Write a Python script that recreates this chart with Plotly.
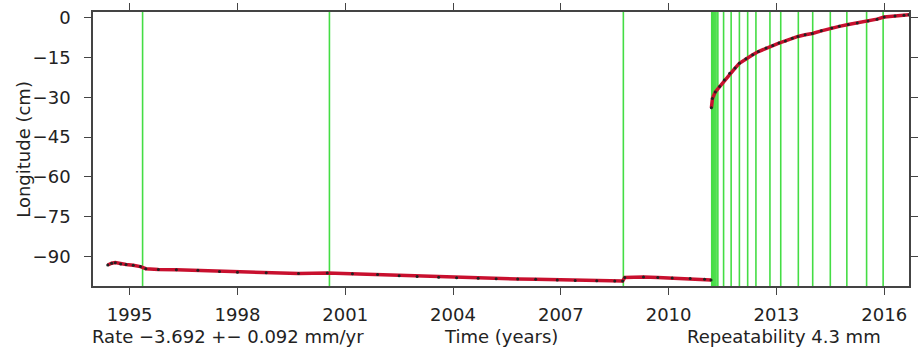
import plotly.graph_objects as go

# ---- data ----
pre_t = [1994.39, 1994.5, 1994.6, 1994.75, 1994.9, 1995.1, 1995.3, 1995.45, 1995.8, 1996.3,
         1996.9, 1997.5, 1998.0, 1998.8, 1999.7, 2000.5, 2001.2, 2001.9, 2002.5, 2003.0,
         2003.6, 2004.1, 2004.7, 2005.2, 2005.8, 2006.3, 2006.9, 2007.4, 2008.0, 2008.5,
         2008.72, 2008.78, 2009.3, 2009.7, 2010.1, 2010.6, 2011.0, 2011.18]
pre_v = [-93.2, -92.5, -92.3, -92.8, -93.0, -93.3, -93.8, -94.6, -94.9, -95.0,
         -95.2, -95.6, -95.9, -96.1, -96.4, -96.2, -96.5, -96.8, -97.2, -97.5,
         -97.8, -98.0, -98.2, -98.4, -98.5, -98.6, -98.8, -99.0, -99.1, -99.2,
         -99.2, -97.9, -97.7, -97.9, -98.1, -98.3, -98.6, -98.8]

post_t = [2011.19, 2011.22, 2011.3, 2011.42, 2011.55, 2011.7, 2011.85, 2011.97, 2012.15, 2012.34,
          2012.5, 2012.71, 2012.9, 2013.07, 2013.25, 2013.44, 2013.6, 2013.8, 2014.0, 2014.25,
          2014.54, 2014.75, 2015.0, 2015.25, 2015.55, 2015.8, 2016.0, 2016.3, 2016.55, 2016.69]
post_v = [-34.0, -30.5, -28.0, -26.0, -23.5, -21.0, -19.0, -17.2, -15.5, -14.0,
          -12.8, -11.5, -10.5, -9.6, -8.8, -7.8, -7.1, -6.5, -6.0, -5.0,
          -3.9, -3.3, -2.6, -2.0, -1.3, -0.6, 0.2, 0.6, 0.9, 1.1]

break_years = [1995.36, 2000.56, 2008.74, 2011.20, 2011.23, 2011.26, 2011.29, 2011.32, 2011.37,
               2011.53, 2011.74, 2011.97, 2012.20, 2012.43, 2012.82, 2013.12, 2013.61,
               2014.01, 2014.50, 2014.96, 2015.51, 2015.97]

x_ticks = [1995, 1998, 2001, 2004, 2007, 2010, 2013, 2016]
y_ticks = [0, -15, -30, -45, -60, -75, -90]

rate_text = "Rate \u22123.692 +\u2212 0.092 mm/yr"
xlabel_text = "Time (years)"
rep_text = "Repeatability 4.3 mm"
ylabel_text = "Longitude (cm)"

FONT = "DejaVu Sans"
FS = 18
TXT = "#222222"
AX = "#444444"
RED = "#c8102e"
GREEN = "#44dd44"

fig = go.Figure()

for t, v in [(pre_t, pre_v), (post_t, post_v)]:
    fig.add_trace(go.Scatter(x=t, y=v, mode="lines", line=dict(color=RED, width=3.5),
                             showlegend=False, hoverinfo="skip"))
    fig.add_trace(go.Scatter(x=t, y=v, mode="markers",
                             marker=dict(color="#222222", size=3), showlegend=False))

for yr in break_years:
    fig.add_shape(type="line", xref="x", yref="paper", x0=yr, x1=yr, y0=0, y1=1,
                  line=dict(color=GREEN, width=1.6), layer="below")

fig.update_layout(
    width=921, height=351,
    margin=dict(l=93, r=3, t=10, b=65),
    paper_bgcolor="white", plot_bgcolor="white",
    font=dict(family=FONT, size=FS, color=TXT),
    showlegend=False,
)
fig.update_xaxes(range=[1993.98, 2016.69], tickvals=x_ticks, ticktext=[str(v) for v in x_ticks],
                 showgrid=False, zeroline=False, showline=True, linecolor=AX, linewidth=1.6,
                 mirror="ticks", ticks="outside", ticklen=7, tickcolor=AX, tickwidth=1.2,
                 ticklabelstandoff=5)
fig.update_yaxes(range=[-101.1, 2.1], tickvals=y_ticks,
                 showgrid=False, zeroline=False, showline=True, linecolor=AX, linewidth=1.6,
                 mirror="ticks", ticks="outside", ticklen=7, tickcolor=AX, tickwidth=1.2,
                 ticklabelstandoff=10)

fig.add_annotation(text=rate_text, xref="paper", yref="paper", x=-0.004, y=-0.185,
                   xanchor="left", yanchor="middle", showarrow=False)
fig.add_annotation(text=xlabel_text, xref="paper", yref="paper", x=0.4994, y=-0.185,
                   xanchor="center", yanchor="middle", showarrow=False)
fig.add_annotation(text=rep_text, xref="paper", yref="paper", x=0.9685, y=-0.185,
                   xanchor="right", yanchor="middle", showarrow=False)
fig.add_annotation(text=ylabel_text, xref="paper", yref="paper", x=-0.086, y=0.5,
                   xanchor="center", yanchor="middle", textangle=-90, showarrow=False)

fig.write_html("out.html")
